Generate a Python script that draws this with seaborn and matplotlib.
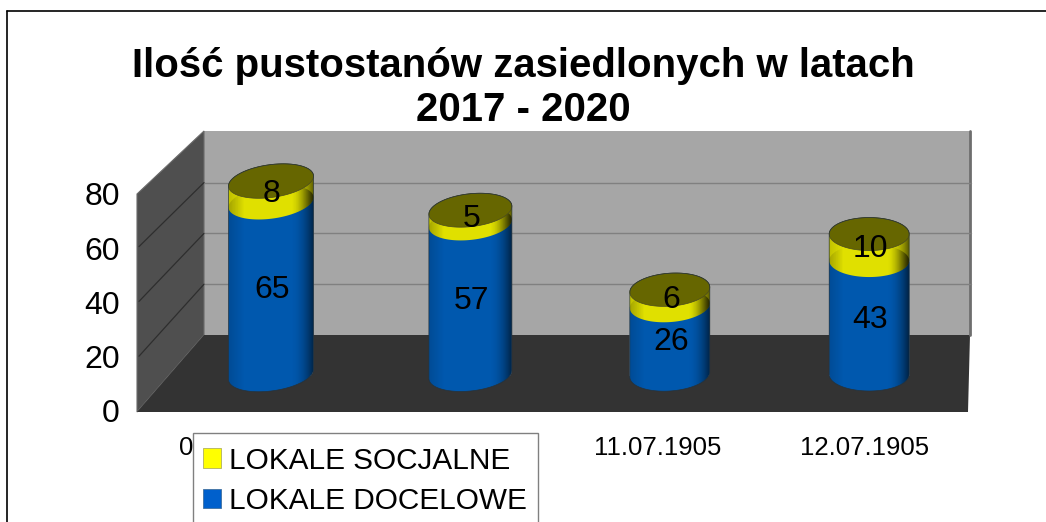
import numpy as np
import pandas as pd
import matplotlib
matplotlib.use('Agg')
import matplotlib.pyplot as plt
import seaborn as sns
from matplotlib.patches import Patch, Polygon, Rectangle

# dane
dates = ['09.07.1905', '10.07.1905', '11.07.1905', '12.07.1905']
docelowe = [65, 57, 26, 43]
socjalne = [8, 5, 6, 10]
value_ticks = [0, 20, 40, 60, 80]
title = 'Ilość pustostanów zasiedlonych w latach\n2017 - 2020'
legend_labels = ['LOKALE SOCJALNE', 'LOKALE DOCELOWE']

W, H = 1046, 522
sns.set_theme(style='white')
plt.rcParams['font.family'] = ['Liberation Sans', 'DejaVu Sans']
plt.rcParams['text.color'] = 'black'
plt.rcParams['xtick.color'] = 'black'
plt.rcParams['ytick.color'] = 'black'

fig = plt.figure(figsize=(W / 100, H / 100), dpi=100, facecolor='white')


def px_axes(left, top, right, bottom, zorder):
    a = fig.add_axes([left / W, 1 - bottom / H, (right - left) / W, (bottom - top) / H], zorder=zorder)
    a.patch.set_alpha(0)
    return a


# tlo 3D (sciany, podloga, ramka) w pikselach
frame = px_axes(0, 0, W, H, 0)
frame.set_xlim(0, W)
frame.set_ylim(H, 0)
frame.axis('off')
frame.plot([7, W], [11, 11], color='black', lw=1.2)
frame.plot([7, 7], [11, H], color='black', lw=1.2)
frame.add_patch(Polygon([(204, 131), (971, 131), (971, 335), (204, 335)], fc='#a6a6a6', ec='none'))
frame.plot([970, 970], [131, 335], color='#6e6e6e', lw=2)
frame.add_patch(Polygon([(137, 194), (204, 131), (204, 335), (137, 412)], fc='#4f4f4f', ec='#6a6a6a', lw=0.8))
frame.add_patch(Polygon([(204, 335), (970, 335), (968, 412), (137, 412)], fc='#333333', ec='none'))
for v in value_ticks[1:-1]:
    back_y = 335 - v * 2.54
    front_y = 411 - v * 2.74
    frame.plot([204, 971], [back_y, back_y], color='#808080', lw=1)
    frame.plot([204, 139], [back_y, front_y], color='#2e2e2e', lw=0.9)

# os z wartosciami i datami (plaszczyzna przednia)
front = px_axes(140.5, 194, 968.5, 411, 1)
front.set_xlim(-0.5, 3.5)
front.set_ylim(0, 80)
front.set_xticks(range(len(dates)))
front.set_xticklabels(dates, fontsize=18.5)
front.set_yticks(value_ticks)
front.tick_params(axis='y', length=0, labelsize=23, pad=15)
front.tick_params(axis='x', length=0, pad=18)
for s in front.spines.values():
    s.set_visible(False)

# slupki: os na cala figure, podstawa i skala jak na obrazku
BASE_PX, UNIT_PX = 374.5, 2.65
X0_PX, STEP_PX = 271, 199.4
ax = px_axes(0, 0, W, H, 2)
df = pd.DataFrame({'data': dates, 'docelowe': docelowe, 'socjalne': socjalne})
sns.barplot(data=df, x='data', y='docelowe', color='#0058ae', saturation=1, width=0.41, ax=ax)
sns.barplot(data=df, x='data', y='socjalne', bottom=df['docelowe'], color='#e0e000', saturation=1, width=0.41, ax=ax)
ax.axis('off')

bar_px = [85, 83, 80, 80]
slope_px = [5, 4, 2.5, 0]
minor_px = 16.5
t_low = np.linspace(np.pi, 2 * np.pi, 60)
shade = np.zeros((1, 200, 4))
u = np.linspace(0, 1, 200)
shade[0, :, 3] = np.clip((0.18 - u) / 0.18, 0, 1) * 0.14 + np.clip((u - 0.72) / 0.28, 0, 1) ** 2 * 0.6


def arc(cx, cy, a, slope, t, sign):
    # luk elipsy pochylonej (sign=-1 dolny, +1 gorny), w jednostkach danych
    return np.column_stack([cx + a * np.cos(t),
                            cy + sign * minor_px / UNIT_PX * np.abs(np.sin(t)) + slope / UNIT_PX * np.cos(t)])


for container, col in zip(ax.containers, ['#0058ae', '#e0e000']):
    for i, bar in enumerate(container):
        cx = bar.get_x() + bar.get_width() / 2
        a = bar_px[i] / STEP_PX / 2
        y0, y1 = bar.get_y(), bar.get_y() + bar.get_height()
        outline = np.vstack([arc(cx, y0, a, slope_px[i], t_low, -1),
                             arc(cx, y1, a, slope_px[i], t_low[::-1], 1)])
        side = Polygon(outline, fc=col, ec='none', zorder=3)
        ax.add_patch(side)
        bar.set_clip_path(side)
        im = ax.imshow(shade, extent=(cx - a, cx + a, y0 - 10, y1 + 10), aspect='auto', zorder=3.1)
        im.set_clip_path(side)

tops = np.array(docelowe) + np.array(socjalne)
for i, bar in enumerate(ax.containers[1]):
    cx = bar.get_x() + bar.get_width() / 2
    a = bar_px[i] / STEP_PX / 2
    t = np.linspace(0, 2 * np.pi, 120)
    pts = np.column_stack([cx + a * np.cos(t),
                           tops[i] + minor_px / UNIT_PX * np.sin(t) + slope_px[i] / UNIT_PX * np.cos(t)])
    ax.add_patch(Polygon(pts, fc='#666600', ec='#4a4a20', lw=0.5, zorder=3.2))
    # obrys calego walca
    sil = np.vstack([arc(cx, 0, a, slope_px[i], t_low, -1), arc(cx, tops[i], a, slope_px[i], t_low[::-1], 1)])
    ax.add_patch(Polygon(sil, fc='none', ec='#26323a', lw=0.5, zorder=3.3))

for container in ax.containers:
    for lab in ax.bar_label(container, label_type='center', fontsize=23, color='black'):
        lab.set_zorder(5)
        lab.xyann = (0.7, -1.5)

ax.set_xlim(-X0_PX / STEP_PX, (W - X0_PX) / STEP_PX)
ax.set_ylim((BASE_PX - H) / UNIT_PX, BASE_PX / UNIT_PX)

# legenda: ramka osobno, bo wychodzi poza dol obrazka
ax.add_patch(Rectangle((193 / W, 1 - 540 / H), 345 / W, 107 / H, transform=fig.transFigure, fc='white',
                       ec='#808080', lw=1, clip_on=False, zorder=9))
handles = [Patch(fc='#ffff00', ec='#b0b060', lw=0.6), Patch(fc='#0060cc', ec='#4070a0', lw=0.6)]
leg = ax.legend(handles, legend_labels, loc='upper left', bbox_to_anchor=(193 / W, 1 - 437 / H),
                bbox_transform=fig.transFigure, borderaxespad=0, fontsize=21.4, frameon=False,
                handlelength=0.62, handleheight=0.62, handletextpad=0.28, labelspacing=0.43, borderpad=0.32)
leg.set_zorder(10)

fig.text(523 / W, 1 - 88 / H, title, ha='center', va='center', fontsize=28.9, fontweight='bold', linespacing=1.17)

fig.savefig('out.png', dpi=100)
